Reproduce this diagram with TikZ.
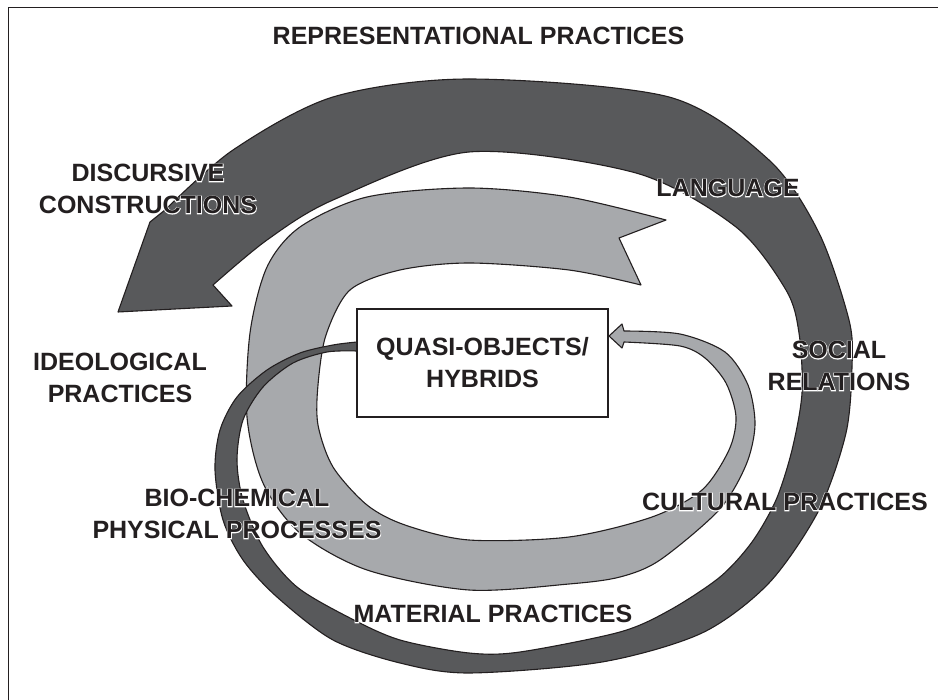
\documentclass[tikz,border=0pt]{standalone}
\usepackage{fontspec}
\setmainfont{Liberation Sans}
\newfontfamily\halofont{Liberation Sans Bold}[FakeBold=6]
\usepackage{tikz}
\usetikzlibrary{positioning}
\definecolor{ink}{HTML}{231F20}
\definecolor{darkband}{HTML}{58595B}
\definecolor{lightband}{HTML}{A7A9AC}
% white stroked copy under the black text
\newcommand{\halolabel}[3]{%
  \node[lbl,font=\fontsize{25}{32}\halofont,text=white] (#1-h) at (#2) {#3};
  \node[lbl] (#1) at (#2) {#3};}

\begin{document}
\begin{tikzpicture}[x=1pt,y=-1pt,
    band/.style={draw=ink,line width=1.1pt,line join=round},
    lbl/.style={text=ink,font=\fontsize{25}{32}\selectfont\bfseries,align=center,inner sep=0pt}]
  \useasboundingbox (0,0) rectangle (938,700);
  % frame, cut by the page on two sides
  \draw[ink,line width=1.5pt] (938,7.5) -- (8.5,7.5) -- (8.5,700);

  % light band: notched tail at the top, head into the box
  \filldraw[band,fill=lightband] (666,220)
    -- plot[smooth] coordinates {
      (666,220) (569,197) (469,188) (367,197) (300,227) (267,267) (250,333)
      (247,417) (263,483) (300,533) (367,570) (469,590) (569,584) (620,577)
      (660,560) (719,510) (746,465) (755,425) (748,385) (725,352) (680,334)
      (624,331)}
    -- (622,324) -- (609,336) -- (622,348)
    -- plot[smooth] coordinates {
      (624,342) (680,346) (705,358) (726,383) (736,417) (729,450) (702,490)
      (652,517) (569,537) (469,540) (405,525) (367,505) (333,467) (318,425)
      (318,385) (326,335) (350,290) (400,270) (469,263) (569,270) (641,285)}
    -- (619,238) -- cycle;

  % dark band: from the box out to the big head at the upper left
  \filldraw[band,fill=darkband] (357,342)
    -- plot[smooth] coordinates {
      (357,342) (333,345) (300,353) (267,370) (237,397) (220,430) (215,470)
      (223,520) (243,560) (277,597) (333,640) (400,663) (469,673) (602,662)
      (702,633) (769,583) (819,510) (846,433) (852,367) (849,320) (819,233)
      (769,160) (669,97) (469,79) (333,97) (233,150) (165,210)}
    -- (150,222) -- (118,312) -- (232,306) -- (213,285)
    -- plot[smooth] coordinates {
      (213,285) (267,240) (333,200) (469,152) (636,173) (736,227) (786,290)
      (799,333) (802,393) (792,450) (776,500) (752,542) (720,577) (670,610)
      (620,632) (520,652) (469,653) (400,640) (350,618) (297,587) (263,547)
      (243,500) (237,460) (243,420) (263,387) (293,363) (327,352) (357,351)}
    -- cycle;

  % centre box
  \node[draw=ink,fill=white,line width=1.5pt,minimum width=251pt,minimum height=108pt,
        lbl] (qo) at (482.5,363) {QUASI-OBJECTS/\\HYBRIDS};

  % labels
  \node[lbl] (rep) at (478.5,36) {REPRESENTATIONAL PRACTICES};
  \node[lbl] (ideo) at (120,378) {IDEOLOGICAL\\PRACTICES};
  \halolabel{disc}{148,189}{DISCURSIVE\\CONSTRUCTIONS}
  \halolabel{lang}{728,188}{LANGUAGE}
  \halolabel{social}{839,366}{SOCIAL\\RELATIONS}
  \halolabel{biochem}{237,514}{BIO-CHEMICAL\\PHYSICAL PROCESSES}
  \halolabel{cultural}{785,502}{CULTURAL PRACTICES}
  \halolabel{material}{493,614}{MATERIAL PRACTICES}
\end{tikzpicture}
\end{document}
